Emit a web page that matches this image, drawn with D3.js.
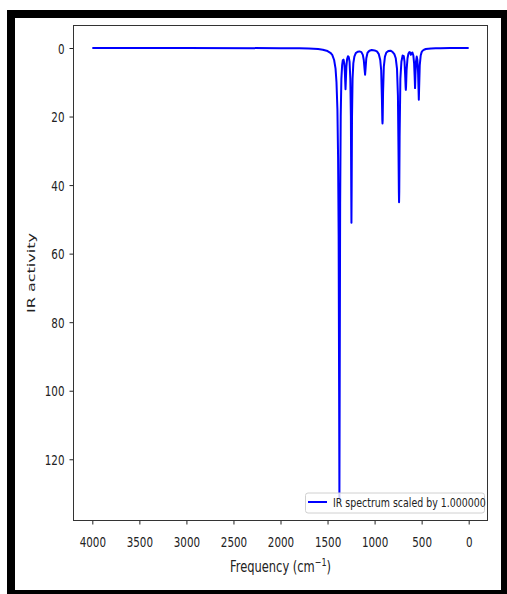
<!DOCTYPE html>
<html>
<head>
<meta charset="utf-8">
<script src="https://cdn.jsdelivr.net/npm/d3@7"></script>
<style>
  html, body { margin: 0; padding: 0; background: #fff; }
  svg { display: block; }
  text { font-family: "DejaVu Sans", sans-serif; fill: #222; }
</style>
</head>
<body>
<svg id="chart" width="507" height="594"></svg>
<script>
// IR spectrum samples: wavenumber (cm^-1) and IR activity
const frequency = [
  4000, 3000, 2000, 1800, 1700, 1600, 1550, 1500, 1470, 1450, 1430, 1415, 1405, 1395,
  1388, 1382, 1377, 1374, 1371, 1366, 1360, 1353, 1345, 1338, 1330, 1322, 1316, 1312,
  1309, 1306, 1300, 1292, 1283, 1275, 1266, 1258, 1252, 1248, 1246, 1244, 1240, 1234,
  1226, 1215, 1200, 1180, 1160, 1140, 1125, 1115, 1107, 1101, 1096, 1088, 1075, 1055,
  1030, 1000, 975, 955, 940, 930, 922, 918, 916, 914, 910, 902, 890, 875, 855, 830,
  810, 790, 775, 762, 752, 746, 742, 740, 738, 734, 726, 715, 702, 690, 682, 675,
  670, 668, 666, 660, 650, 640, 630, 622, 615, 608, 598, 588, 580, 574, 570, 566,
  560, 552, 545, 538, 533, 530, 527, 520, 510, 500, 490, 475, 455, 430, 400, 350,
  300, 200, 0
];
const irActivity = [
  0, 0, 0.05, 0.1, 0.15, 0.3, 0.5, 0.9, 1.4, 2.0, 3.5, 6, 10, 18,
  32, 55, 100, 131.3, 100, 45, 20, 9, 5, 3.6, 3.4, 4.5, 7, 10,
  12, 10, 5.5, 3.2, 2.4, 2.6, 4, 9, 20, 42, 51, 42, 20, 9,
  4.5, 2.5, 1.5, 1.1, 1.0, 1.2, 2, 3.5, 6, 7.8, 6, 3, 1.4, 0.8,
  0.6, 0.7, 1.0, 1.8, 3.5, 6.5, 15, 21, 22, 21, 13, 5.5, 2.5, 1.3, 0.9, 0.8,
  1.1, 1.8, 3, 6, 14, 30, 42, 45, 42, 26, 9, 4, 2.2, 2.4, 4, 8,
  11.5, 12.2, 11.5, 6.5, 3, 1.6, 1.2, 1.3, 2.0, 1.6, 1.3, 2.2, 4.5, 8.5, 11.7, 8,
  4, 2.5, 3.5, 7, 12, 15.1, 12, 5, 2.2, 1.2, 0.8, 0.5, 0.3, 0.2, 0.15, 0.1,
  0.05, 0.02, 0
];
const xTicks = [4000, 3500, 3000, 2500, 2000, 1500, 1000, 500, 0];
const yTicks = [0, 20, 40, 60, 80, 100, 120];
const legendLabel = "IR spectrum scaled by 1.000000";

const svg = d3.select("#chart");

// figure frame
svg.append("rect").attr("x", 7).attr("y", 10).attr("width", 510).attr("height", 600).attr("fill", "#000");
svg.append("rect").attr("x", 15).attr("y", 18).attr("width", 486).attr("height", 572).attr("fill", "#fff");

const plotL = 73.5, plotR = 487.5, plotT = 25.5, plotB = 520.5;

const x = d3.scaleLinear().domain([4200, -200]).range([plotL, plotR]);
const y = d3.scaleLinear().domain([-6.565, 137.865]).range([plotT, plotB]);

const sx = 0.74; // horizontal text compression

// y axis
const gy = svg.append("g").attr("transform", `translate(${plotL},0)`)
  .call(d3.axisLeft(y).tickValues(yTicks).tickSize(4).tickFormat(d3.format("d")));
gy.select(".domain").remove();
gy.selectAll(".tick line").attr("stroke", "#222");
gy.selectAll(".tick text")
  .attr("x", null).attr("dy", null)
  .attr("font-size", 14)
  .attr("text-anchor", "end")
  .attr("transform", `translate(-9,5) scale(${sx},1)`);

// x axis
const gx = svg.append("g").attr("transform", `translate(0,${plotB})`)
  .call(d3.axisBottom(x).tickValues(xTicks).tickSize(4).tickFormat(d3.format("d")));
gx.select(".domain").remove();
gx.selectAll(".tick line").attr("stroke", "#222");
gx.selectAll(".tick text")
  .attr("y", null).attr("dy", null)
  .attr("font-size", 14)
  .attr("text-anchor", "middle")
  .attr("transform", `translate(0,26) scale(${sx},1)`);

// spectrum line
const line = d3.line().x((d, i) => x(frequency[i])).y(d => y(d));
svg.append("path")
  .datum(irActivity)
  .attr("fill", "none")
  .attr("stroke", "#0000ff")
  .attr("stroke-width", 2)
  .attr("stroke-linejoin", "round")
  .attr("d", line);

// axes box
svg.append("rect")
  .attr("x", plotL).attr("y", plotT).attr("width", plotR - plotL).attr("height", plotB - plotT)
  .attr("fill", "none").attr("stroke", "#333").attr("stroke-width", 1);

// axis labels
const xl = svg.append("text")
  .attr("transform", `translate(${(plotL + plotR) / 2},572) scale(0.765,1)`)
  .attr("text-anchor", "middle")
  .attr("font-size", 15);
xl.append("tspan").text("Frequency (cm");
xl.append("tspan").attr("dy", -6).attr("font-size", 10.5).text("\u22121");
xl.append("tspan").attr("dy", 6).text(")");

svg.append("text")
  .attr("transform", `translate(35,${(plotT + plotB) / 2}) rotate(-90) scale(1,0.6)`)
  .attr("text-anchor", "middle")
  .attr("font-size", 16)
  .text("IR activity");

// legend
const lg = svg.append("g");
lg.append("rect")
  .attr("x", 305.5).attr("y", 493).attr("width", 179).attr("height", 20).attr("rx", 2.5)
  .attr("fill", "#fff").attr("fill-opacity", 0.8)
  .attr("stroke", "#d0d0d0").attr("stroke-width", 1);
lg.append("line")
  .attr("x1", 308).attr("x2", 327).attr("y1", 502).attr("y2", 502)
  .attr("stroke", "#0000ff").attr("stroke-width", 2);
lg.append("text")
  .attr("transform", `translate(333,506.5) scale(0.8,1)`)
  .attr("font-size", 11.8)
  .text(legendLabel);
</script>
</body>
</html>
